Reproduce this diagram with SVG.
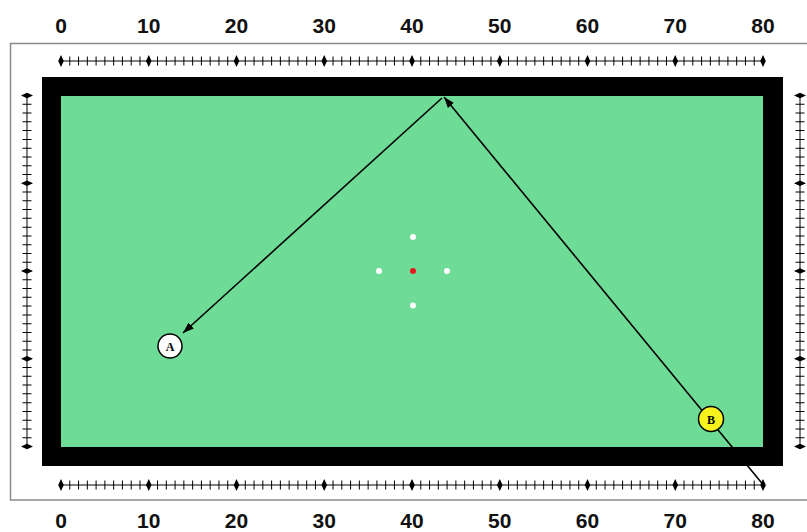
<svg xmlns="http://www.w3.org/2000/svg" width="807" height="532" viewBox="0 0 807 532">
<style>
.lbl{font-family:"Liberation Sans",Arial,sans-serif;font-weight:bold;font-size:21px;fill:#111;text-anchor:middle}
.ball{font-family:"Liberation Serif","Times New Roman",serif;font-weight:bold;font-size:12px;fill:#000;text-anchor:middle}
.axis{stroke:#000;stroke-width:1;fill:none}
.tick{stroke:#000;stroke-width:9;stroke-dasharray:1 7.775;fill:none}
.spot{fill:#fff}
.shot{stroke:#000;stroke-width:1.6;fill:none}
</style>
<defs>
<polygon id="dh" points="0,-6 2.8,0 0,6 -2.8,0" fill="#000"/>
<polygon id="dv" points="-6,0 0,-2.8 6,0 0,2.8" fill="#000"/>
<marker id="arr" markerUnits="userSpaceOnUse" markerWidth="12" markerHeight="8" refX="11" refY="4" orient="auto">
<path d="M0,0 L11,4 L0,8 Z" fill="#000"/>
</marker>
</defs>
<rect width="807" height="532" fill="#fff"/>
<rect id="frame" x="10.5" y="43.5" width="810" height="456.5" fill="#fff" stroke="#8a8a8a" stroke-width="1.5"/>
<g id="table">
<rect x="42" y="77" width="741" height="389" fill="#000"/>
<rect x="61" y="96" width="702" height="351" fill="#6edb96"/>
</g>
<g id="spots">
<circle cx="413" cy="271" r="3" fill="#e8141e"/>
<circle class="spot" cx="413" cy="237" r="3"/>
<circle class="spot" cx="413" cy="305.5" r="3"/>
<circle class="spot" cx="379" cy="271" r="3"/>
<circle class="spot" cx="447" cy="271" r="3"/>
</g>
<g id="ruler-top">
<line class="axis" x1="61" y1="61" x2="763" y2="61"/>
<line class="tick" x1="60.5" y1="61" x2="764" y2="61"/>
<use href="#dh" x="61" y="61"/><use href="#dh" x="148.75" y="61"/><use href="#dh" x="236.5" y="61"/><use href="#dh" x="324.25" y="61"/><use href="#dh" x="412" y="61"/><use href="#dh" x="499.75" y="61"/><use href="#dh" x="587.5" y="61"/><use href="#dh" x="675.25" y="61"/><use href="#dh" x="763" y="61"/>
</g>
<g id="ruler-bottom">
<line class="axis" x1="61" y1="485" x2="763" y2="485"/>
<line class="tick" x1="60.5" y1="485" x2="764" y2="485"/>
<use href="#dh" x="61" y="485"/><use href="#dh" x="148.75" y="485"/><use href="#dh" x="236.5" y="485"/><use href="#dh" x="324.25" y="485"/><use href="#dh" x="412" y="485"/><use href="#dh" x="499.75" y="485"/><use href="#dh" x="587.5" y="485"/><use href="#dh" x="675.25" y="485"/><use href="#dh" x="763" y="485"/>
</g>
<g id="ruler-left">
<line class="axis" x1="27" y1="95.5" x2="27" y2="446.5"/>
<line class="tick" x1="27" y1="95" x2="27" y2="447.5"/>
<use href="#dv" x="27" y="95.5"/><use href="#dv" x="27" y="183.25"/><use href="#dv" x="27" y="271"/><use href="#dv" x="27" y="358.75"/><use href="#dv" x="27" y="446.5"/>
</g>
<g id="ruler-right">
<line class="axis" x1="800" y1="95.5" x2="800" y2="446.5"/>
<line class="tick" x1="800" y1="95" x2="800" y2="447.5"/>
<use href="#dv" x="800" y="95.5"/><use href="#dv" x="800" y="183.25"/><use href="#dv" x="800" y="271"/><use href="#dv" x="800" y="358.75"/><use href="#dv" x="800" y="446.5"/>
</g>
<g id="labels-top">
<text class="lbl" x="61" y="33">0</text><text class="lbl" x="148.75" y="33">10</text><text class="lbl" x="236.5" y="33">20</text><text class="lbl" x="324.25" y="33">30</text><text class="lbl" x="412" y="33">40</text><text class="lbl" x="499.75" y="33">50</text><text class="lbl" x="587.5" y="33">60</text><text class="lbl" x="675.25" y="33">70</text><text class="lbl" x="763" y="33">80</text>
</g>
<g id="labels-bottom">
<text class="lbl" x="61" y="528">0</text><text class="lbl" x="148.75" y="528">10</text><text class="lbl" x="236.5" y="528">20</text><text class="lbl" x="324.25" y="528">30</text><text class="lbl" x="412" y="528">40</text><text class="lbl" x="499.75" y="528">50</text><text class="lbl" x="587.5" y="528">60</text><text class="lbl" x="675.25" y="528">70</text><text class="lbl" x="763" y="528">80</text>
</g>
<g id="connectors">
<line class="shot" x1="765" y1="487" x2="444" y2="97" marker-end="url(#arr)"/>
<line class="shot" x1="442" y1="98" x2="183" y2="333" marker-end="url(#arr)"/>
</g>
<g id="ball-A">
<circle cx="170" cy="346" r="12" fill="#fff" stroke="#000" stroke-width="1.5"/>
<text class="ball" x="170" y="350.5">A</text>
</g>
<g id="ball-B">
<circle cx="711" cy="419" r="12.5" fill="#f7f21e" stroke="#000" stroke-width="1.5"/>
<text class="ball" x="711" y="423.5">B</text>
</g>
</svg>
